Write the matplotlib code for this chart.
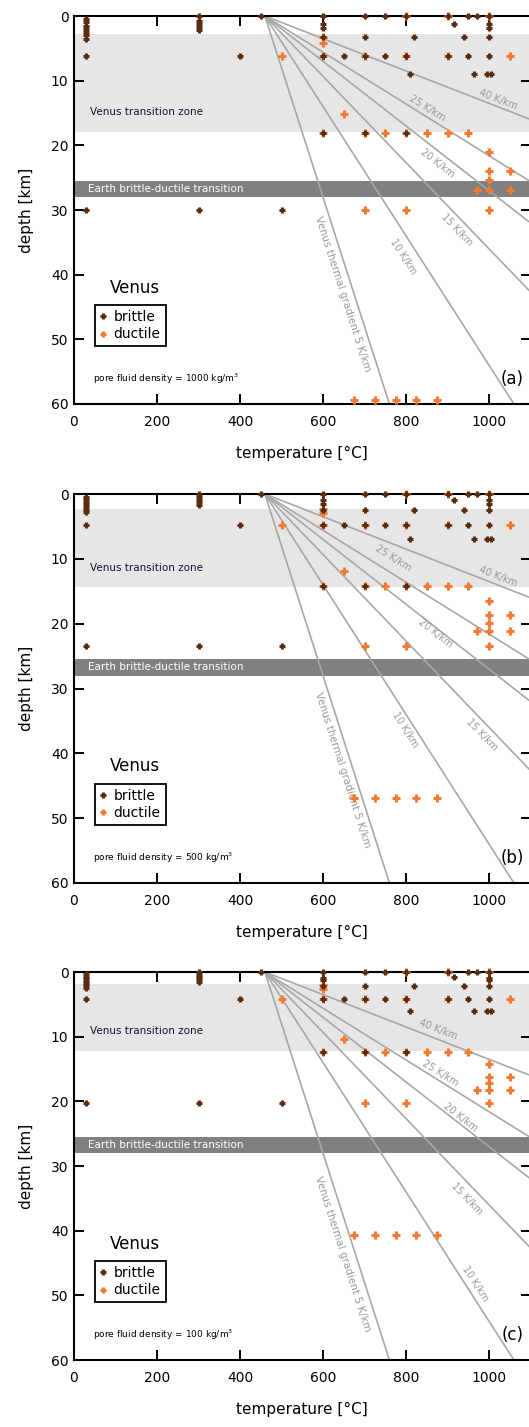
import matplotlib
matplotlib.use('Agg')
import matplotlib.pyplot as plt
import numpy as np

plt.rcParams['font.family'] = ['DejaVu Sans']

# surface temperature and geothermal gradients (K/km)
surface_T = 460
gradients = [5, 10, 15, 20, 25, 40]
grad_labels = ['Venus thermal gradient 5 K/km', '10 K/km', '15 K/km', '20 K/km', '25 K/km', '40 K/km']

# label positions (temperature, depth) for each panel
grad_label_pos = [
    [(648, 43.0), (793, 37.2), (922, 33.0), (875, 22.8), (850, 14.2), (1022, 12.9)],
    [(648, 42.5), (798, 36.4), (983, 37.1), (870, 21.4), (769, 9.9), (1022, 12.8)],
    [(648, 43.6), (966, 48.2), (947, 35.0), (930, 22.4), (882, 15.6), (877, 8.9)],
]

panel_tags = ['(a)', '(b)', '(c)']
fluid_density = ['1000', '500', '100']
venus_zone = [(2.8, 17.9), (2.3, 14.4), (1.9, 12.2)]
earth_zone = (25.5, 28.0)

# brittle samples
brittle_T = [30, 30, 30, 30, 30, 30, 30, 30, 30,
             300, 300, 300, 300, 300, 300,
             400, 450, 500,
             600, 600, 600, 600, 600, 600,
             650,
             700, 700, 700, 700,
             750, 750,
             800, 800, 800,
             820, 810,
             900, 900, 915, 940,
             950, 950, 970, 965,
             1000, 1000, 1000, 1000, 1000, 995, 1005]
brittle_z_a = [0.5, 1.0, 1.5, 2.0, 2.5, 3.0, 3.6, 6.2, 30,
               0, 0.7, 1.2, 1.7, 2.2, 30,
               6.2, 0, 30,
               0, 1.3, 1.9, 3.2, 6.2, 18.1,
               6.2,
               0, 3.2, 6.2, 18.1,
               0, 6.2,
               0, 6.2, 18.1,
               3.2, 9.0,
               0, 6.2, 1.2, 3.2,
               0, 6.2, 0, 9.0,
               0, 1.3, 1.9, 3.2, 6.2, 9.0, 9.0]
brittle_z_b = [0.4, 0.8, 1.2, 1.6, 2.0, 2.4, 2.8, 4.8, 23.4,
               0, 0.5, 0.9, 1.3, 1.7, 23.4,
               4.8, 0, 23.4,
               0, 1.0, 1.5, 2.5, 4.8, 14.2,
               4.8,
               0, 2.5, 4.8, 14.2,
               0, 4.8,
               0, 4.8, 14.2,
               2.5, 7.0,
               0, 4.8, 0.9, 2.5,
               0, 4.8, 0, 7.0,
               0, 1.0, 1.5, 2.5, 4.8, 7.0, 7.0]
brittle_z_c = [0.35, 0.7, 1.0, 1.35, 1.7, 2.0, 2.4, 4.2, 20.3,
               0, 0.5, 0.8, 1.15, 1.5, 20.3,
               4.2, 0, 20.3,
               0, 0.9, 1.3, 2.2, 4.2, 12.3,
               4.2,
               0, 2.2, 4.2, 12.3,
               0, 4.2,
               0, 4.2, 12.3,
               2.2, 6.0,
               0, 4.2, 0.8, 2.2,
               0, 4.2, 0, 6.0,
               0, 0.9, 1.3, 2.2, 4.2, 6.0, 6.0]

# ductile samples
ductile_T = [500, 600, 600, 600, 600, 650, 700, 700, 700, 750,
             800, 800, 800, 800, 850, 900, 900, 900, 950,
             1000, 1000, 1000, 1000, 1000, 1000, 970, 1050, 1050, 1050,
             675, 725, 775, 825, 875]
ductile_z_a = [6.2, 3.2, 4.2, 6.2, 18.1, 15.2, 6.2, 18.1, 30, 18.1,
               0, 6.2, 18.1, 30, 18.1, 0, 6.2, 18.1, 18.1,
               0, 21.1, 23.9, 25.4, 26.9, 30, 26.9, 6.2, 23.9, 26.9,
               59.4, 59.4, 59.4, 59.4, 59.4]
ductile_z_b = [4.8, 2.3, 2.9, 4.8, 14.2, 11.8, 4.8, 14.2, 23.4, 14.2,
               0, 4.8, 14.2, 23.4, 14.2, 0, 4.8, 14.2, 14.2,
               0, 16.5, 18.7, 19.9, 21.1, 23.4, 21.1, 4.8, 18.7, 21.1,
               46.9, 46.9, 46.9, 46.9, 46.9]
ductile_z_c = [4.2, 2.0, 2.6, 4.2, 12.3, 10.3, 4.2, 12.3, 20.3, 12.3,
               0, 4.2, 12.3, 20.3, 12.3, 0, 4.2, 12.3, 12.3,
               0, 14.3, 16.2, 17.2, 18.3, 20.3, 18.3, 4.2, 16.2, 18.3,
               40.6, 40.6, 40.6, 40.6, 40.6]

brittle_z = [brittle_z_a, brittle_z_b, brittle_z_c]
ductile_z = [ductile_z_a, ductile_z_b, ductile_z_c]

brown = '#5a2c10'
orange = '#f47a34'
line_grey = '#a8a8a8'

W, H = 529, 1427
fig = plt.figure(figsize=(W / 100, H / 100), dpi=100)
tops = [16, 494, 972]
bottoms = [404, 883, 1360]

for i in range(3):
    ax = fig.add_axes([74 / W, 1 - bottoms[i] / H, 456.5 / W, (bottoms[i] - tops[i]) / H])
    ax.set_xlim(0, 1100)
    ax.set_ylim(60, 0)

    v0, v1 = venus_zone[i]
    ax.axhspan(v0, v1, color='#e6e6e6', lw=0, zorder=0)
    ax.axhspan(earth_zone[0], earth_zone[1], color='#808080', lw=0, zorder=1)
    ax.text(0.035 * 1100, v1 - 3.0, 'Venus transition zone', fontsize=7.5,
            color='#111133', va='center', ha='left', zorder=3)
    ax.text(0.03 * 1100, np.mean(earth_zone), 'Earth brittle-ductile transition', fontsize=7.5,
            color='white', va='center', ha='left', zorder=3)

    z = np.array([0, 60])
    for g, lab, pos in zip(gradients, grad_labels, grad_label_pos[i]):
        ax.plot(surface_T + g * z, z, color=line_grey, lw=1.2, zorder=2)
        fs = 7.5 if g == 5 else 7
        ax.text(pos[0], pos[1], lab, fontsize=fs, color='#9a9a9a',
                rotation=np.degrees(np.arctan2(1, g)), transform_rotates_text=True,
                rotation_mode='anchor', ha='center', va='center', zorder=3)

    d, = ax.plot(ductile_T, ductile_z[i], linestyle='none', marker='+', ms=6, mew=2.2,
                 color=orange, zorder=4, clip_on=False)
    b, = ax.plot(brittle_T, brittle_z[i], linestyle='none', marker='+', ms=5, mew=2.2,
                 color=brown, zorder=5, clip_on=False)

    leg = ax.legend([b, d], ['brittle', 'ductile'], loc='upper left',
                    bbox_to_anchor=(0.046, 0.255), borderaxespad=0, fancybox=False,
                    edgecolor='black', framealpha=1, fontsize=10, handlelength=0.5,
                    handletextpad=0.5, borderpad=0.35, labelspacing=0.25, markerscale=0.8)
    leg.get_frame().set_linewidth(1.3)
    ax.text(0.079, 0.30, 'Venus', transform=ax.transAxes, fontsize=12, ha='left', va='center')
    ax.text(0.042, 0.064, 'pore fluid density = %s kg/m$^3$' % fluid_density[i],
            transform=ax.transAxes, fontsize=6.5, ha='left', va='center')
    ax.text(0.985, 0.065, panel_tags[i], transform=ax.transAxes, fontsize=12,
            ha='right', va='center')

    ax.set_xticks(range(0, 1001, 200))
    ax.set_yticks(range(0, 61, 10))
    ax.tick_params(direction='in', top=True, right=True, length=7, width=1.4,
                   labelsize=10)
    ax.tick_params(axis='x', pad=8)
    ax.tick_params(axis='y', pad=4)
    for s in ax.spines.values():
        s.set_linewidth(1.5)
    ax.set_xlabel('temperature [°C]', fontsize=11, labelpad=12)
    ax.set_ylabel('depth [km]', fontsize=11, labelpad=12)

fig.savefig('out.png', dpi=100)
